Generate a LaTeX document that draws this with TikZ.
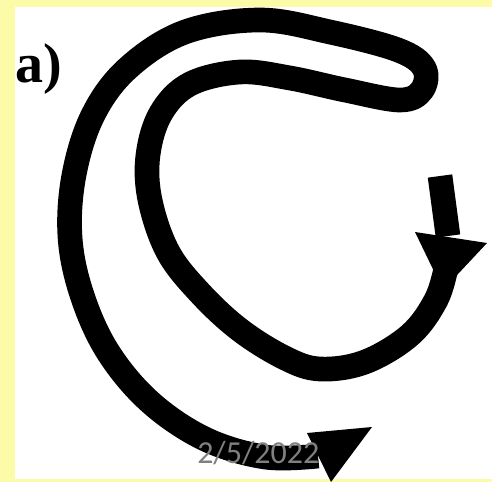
\documentclass[tikz,border=0pt]{standalone}
\usepackage{fontspec}
\setmainfont{Liberation Serif}
\newfontfamily\wmfont{Carlito}
\definecolor{bgyellow}{RGB}{252,252,168}
\definecolor{wmgray}{RGB}{128,128,128}
\begin{document}
\begin{tikzpicture}[x=0.75pt,y=-0.75pt,
  band/.style={line width=18.5pt,line join=round,line cap=butt,black},
  headfill/.style={fill=black}]
\useasboundingbox (0,0) rectangle (492,482);
\fill[bgyellow] (0,0) rectangle (492,482);
\fill[white] (15,7) rectangle (492,479);
% main curled band
\draw[band] plot[smooth,tension=0.6] coordinates {
 (318,456) (265,457) (205,439) (150,402) (108,352) (82,295) (70,237)
 (74,175) (93,115) (128,68) (185,32) (260,20) (330,32) (398,50)
 (424,68) (422,90) (400,100) (345,90) (290,78) (240,72) (190,84)
 (161,113) (148,155) (150,200) (168,252) (200,293) (240,330)
 (285,358) (320,369) (365,362) (410,335) (436,300) (446,268)};
% right arrow
\draw[band] (440,176) -- (448,236);
\fill[headfill] (415,232) -- (487,243) -- (443,290) -- cycle;
% bottom arrow head
\fill[headfill] (307,433) -- (372,427) -- (331,482) -- cycle;
% label
\node[anchor=base west,inner sep=0pt,font=\fontsize{42}{42}\selectfont\bfseries] (lbl) at (15,82) {a)};
% date watermark
\node[anchor=base west,inner sep=0pt,text=wmgray,font=\wmfont\fontsize{24}{24}\selectfont] (date) at (197,463) {2/5/2022};
\end{tikzpicture}
\end{document}
